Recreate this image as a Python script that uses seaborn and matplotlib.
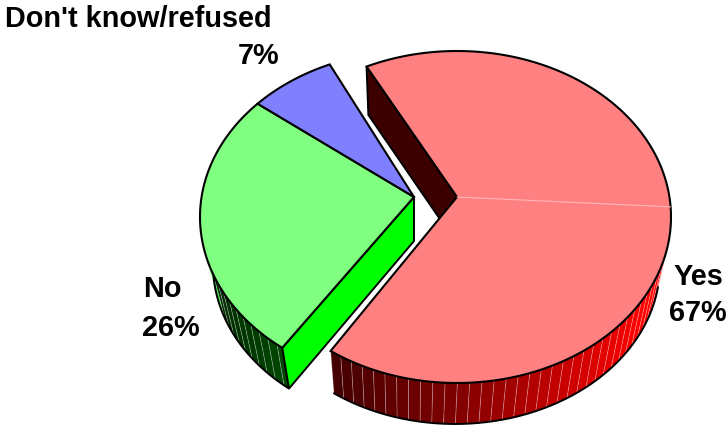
import numpy as np
import matplotlib
matplotlib.use("Agg")
import matplotlib.pyplot as plt
import seaborn as sns

# --- Data ---
categories = ["Yes", "No", "Don't know/refused"]
shares = [67.0, 26.4, 6.6]

# --- Colours ---
top_colors = ["#ff8080", "#80ff80", "#8080ff"]
cut_colors = ["#3c0000", "#00ff00", "#000040"]
wall_hues = [(1, 0, 0), (0, 1, 0), (0, 0, 1)]

sns.set_theme(style="white")
plt.rcParams["font.family"] = ["Liberation Sans", "DejaVu Sans"]

# pie geometry in picture pixels: the pulled-out slice and the rest differ only in x
RX_TOP, RY_TOP, RX_BOT, RY_BOT = 214, 166, 205, 159
Y_TOP, Y_BOT, Y_APEX_TOP, Y_APEX_BOT = 218, 266, 198, 242


def ellipse(cx, cy, rx, ry, t):
    r = np.radians(t)
    return np.column_stack([cx + rx * np.cos(r), cy - ry * np.sin(r)])


def wall_shade(t, idx):
    # brightness of a wall facet, grows towards the right of the pie
    if idx == 0:
        level = np.interp(t, [233, 270, 300, 330], [0.25, 0.5, 0.78, 1.0])
    else:
        level = np.interp(t, [200, 232], [0.15, 0.28])
        if t < 200:
            level = 1.0
    return tuple(c * level for c in wall_hues[idx])


def draw_outer_wall(ax, cx_top, cx_bot, t_from, t_to, idx, bot_shift=0):
    edges = np.arange(t_from, t_to, 3.3)
    edges = np.append(edges, t_to)
    for a, b in zip(edges[:-1], edges[1:]):
        top = ellipse(cx_top, Y_TOP, RX_TOP, RY_TOP, np.array([a, b]))
        bot = ellipse(cx_bot, Y_BOT, RX_BOT, RY_BOT, np.array([b, a]) + bot_shift)
        ax.fill(*np.vstack([top, bot]).T, color=wall_shade((a + b) / 2, idx), lw=0, zorder=2)
        ax.plot([top[0, 0], bot[1, 0]], [top[0, 1], bot[1, 1]], color="white", alpha=0.35, lw=0.6, zorder=2.1)
    t = np.linspace(t_from, t_to, 200) + bot_shift
    ax.plot(*ellipse(cx_bot, Y_BOT, RX_BOT, RY_BOT, t).T, color="black", lw=1.4, zorder=2.2)


def draw_cut_wall(ax, cx_top, cx_bot, apex_x, t, color, rim_lift=0, bot_shift=0):
    apex_top = [cx_top, Y_APEX_TOP]
    apex_bot = [apex_x, Y_APEX_BOT]
    rim_top = ellipse(cx_top, Y_TOP, RX_TOP, RY_TOP, np.array([t]))[0]
    rim_bot = ellipse(cx_bot, Y_BOT - rim_lift, RX_BOT, RY_BOT, np.array([t + bot_shift]))[0]
    poly = np.array([apex_top, rim_top, rim_bot, apex_bot])
    ax.fill(*poly.T, facecolor=color, edgecolor="black", lw=1.4, joinstyle="miter", zorder=2.5)


def draw_top(ax, cx, t_from, t_to, color):
    t = np.linspace(t_from, t_to, 200)
    rim = ellipse(cx, Y_TOP, RX_TOP, RY_TOP, t)
    poly = np.vstack([[cx, Y_APEX_TOP], rim])
    ax.fill(*poly.T, facecolor=color, edgecolor="black", lw=1.5, joinstyle="miter", zorder=3)


fig, ax = plt.subplots(figsize=(7.28, 4.27), dpi=100)
fig.subplots_adjust(0, 0, 1, 1)
ax.set_xlim(0, 728)
ax.set_ylim(427, 0)
ax.axis("off")

sweeps = 360 * np.array(shares) / sum(shares)

# Yes slice, pulled out to the right
yes_start = 115
yes_end = yes_start - sweeps[0]
draw_outer_wall(ax, 457, 455, yes_end + 360, 352, 0)
draw_cut_wall(ax, 457, 455, 455, yes_start, cut_colors[0], rim_lift=6)
draw_top(ax, 457, yes_start, yes_end, top_colors[0])
seam = ellipse(457, Y_TOP, RX_TOP, RY_TOP, np.array([3.5]))[0]
ax.plot([457, seam[0]], [Y_APEX_TOP, seam[1]], color="#ffb8b8", lw=0.8, zorder=3.1)

# No and Don't know share the second apex
no_start = 232
no_end = no_start - sweeps[1]
dk_end = no_end - sweeps[2]
draw_outer_wall(ax, 414, 418, 184, no_start, 1, bot_shift=-1)
draw_cut_wall(ax, 414, 418, 414, no_start, cut_colors[1], bot_shift=-1)
draw_top(ax, 414, no_start, no_end, top_colors[1])
draw_top(ax, 414, no_end, dk_end, top_colors[2])

# --- Labels ---
fs = 20.8
label_style = dict(fontsize=fs, fontweight="bold", color="black", ha="center", va="center", zorder=5)
ax.text(138, 19, categories[2], **label_style)
ax.text(259, 56, f"{shares[2]:.0f}%", **label_style)
ax.text(162, 289, categories[1], **label_style)
ax.text(171, 328, f"{shares[1]:.0f}%", **label_style)
ax.text(698, 277, categories[0], **label_style)
ax.text(698, 313, f"{shares[0]:.0f}%", **label_style)

fig.savefig("out.png", dpi=100)
